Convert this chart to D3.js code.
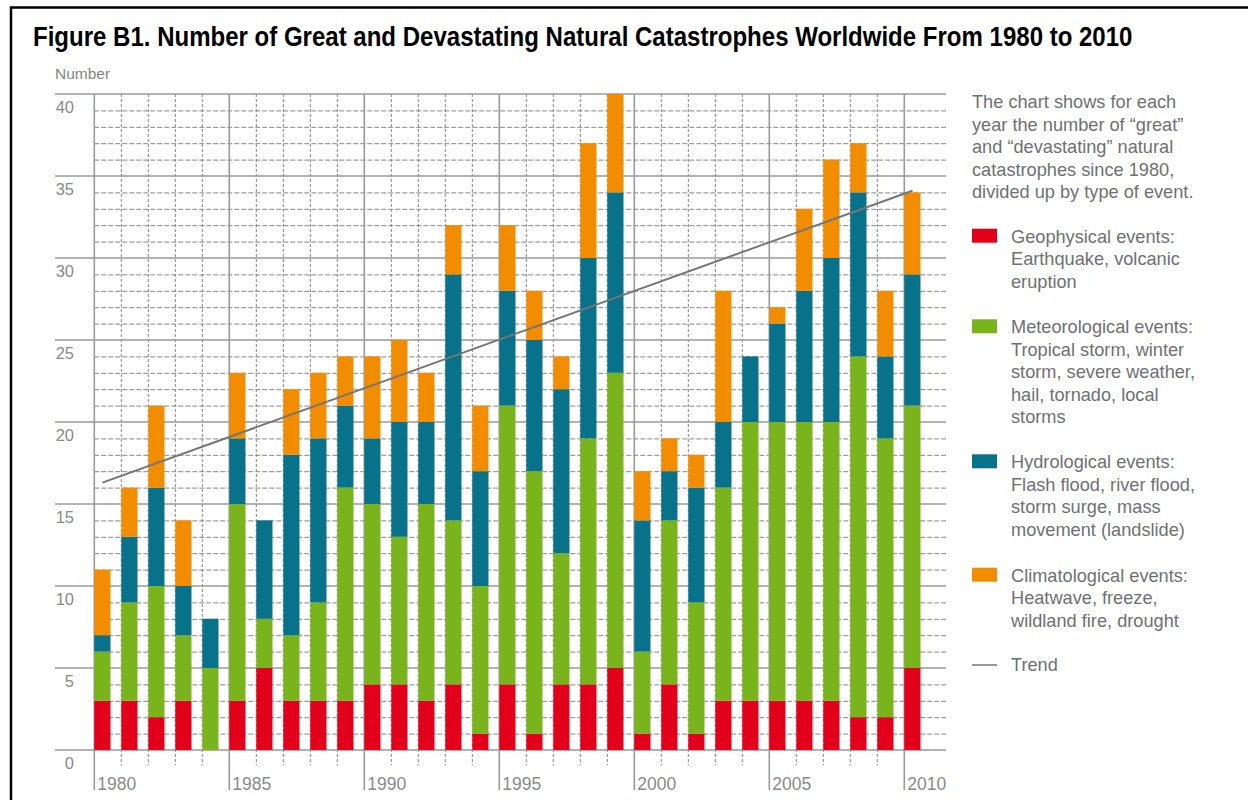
<!DOCTYPE html>
<html><head><meta charset="utf-8">
<script src="https://cdn.jsdelivr.net/npm/d3@7"></script>
<style>
html,body{margin:0;padding:0;background:#fff;}
svg{display:block;}
</style></head>
<body>
<svg id="chart" width="1248" height="800"></svg>
<script>
// ---- data ----
const years = d3.range(1980, 2011);
const geophysical    = [3,3,2,3,0,3,5,3,3,3, 4,4,3,4,1,4,1,4,4,5, 1,4,1,3,3,3,3,3,2,2,5];
const meteorological = [3,6,8,4,5,12,3,4,6,13, 11,9,12,10,9,17,16,8,15,18, 5,10,8,13,17,17,17,17,22,17,16];
const hydrological   = [1,4,6,3,3,4,6,11,10,5, 4,7,5,15,7,7,8,10,11,11, 8,3,7,4,4,6,8,10,10,5,8];
const climatological = [4,3,5,4,0,4,0,4,4,3, 5,5,3,3,4,4,3,2,7,6, 3,2,2,8,0,1,5,6,3,4,5];
const trendYears = [1980, 2010];
const trendValues = [16.3, 34.1];
const yTicks = [0,5,10,15,20,25,30,35,40];
const xLabelYears = [1980,1985,1990,1995,2000,2005,2010];
const seriesKeys = ["geo","met","hyd","clim"];
const seriesColors = ["#e2001a","#7ab41d","#08728a","#f28c00"];
const titleText = "Figure B1. Number of Great and Devastating Natural Catastrophes Worldwide From 1980 to 2010";
const introLines = ["The chart shows for each","year the number of \u201cgreat\u201d","and \u201cdevastating\u201d natural","catastrophes since 1980,","divided up by type of event."];
const legendItems = [
  {key:"geo", lines:["Geophysical events:","Earthquake, volcanic","eruption"]},
  {key:"met", lines:["Meteorological events:","Tropical storm, winter","storm, severe weather,","hail, tornado, local","storms"]},
  {key:"hyd", lines:["Hydrological events:","Flash flood, river flood,","storm surge, mass","movement (landslide)"]},
  {key:"clim", lines:["Climatological events:","Heatwave, freeze,","wildland fire, drought"]}
];

// ---- layout ----
const svg = d3.select("#chart");
const fontBody = "'Liberation Sans', Arial, Helvetica, sans-serif";
const gridLeft = 55, gridRight = 946;
const x = d3.scaleLinear().domain([1980, 2010]).range([94.3, 904.3]);
const step = x(1981) - x(1980);
const barW = step * 0.6;
const y = d3.scaleLinear().domain([0, 40]).range([750, 94]);

// frame
svg.append("path").attr("d", "M11,812 L11,7.5 L1260,7.5")
  .attr("fill","none").attr("stroke","#000").attr("stroke-width",2.5);

// title (condensed by horizontal scaling to the reference width)
const titleG = svg.append("g");
const title = titleG.append("text").attr("x",0).attr("y",0)
  .attr("font-family","'Liberation Sans Narrow','Arial Narrow'," + fontBody)
  .attr("font-weight","bold").attr("font-size",27).attr("fill","#000")
  .text(titleText);
const tw = title.node().getComputedTextLength();
titleG.attr("transform", `translate(33,46) scale(${1100/tw},1)`);

// "Number"
svg.append("text").attr("x",55).attr("y",79).attr("font-family",fontBody)
  .attr("font-size",15.5).attr("fill","#858585").text("Number");

// minor horizontal dashed grid
const g = svg.append("g");
const minor = d3.range(1, 40).filter(v => v % 5 !== 0);
g.selectAll(".hminor").data(minor).enter().append("line")
  .attr("x1", x(1980)).attr("x2", gridRight)
  .attr("y1", d => y(d)+0.5).attr("y2", d => y(d)+0.5)
  .attr("stroke","#858585").attr("stroke-width",1).attr("stroke-dasharray","5,2");

// vertical dashed lines (non-5 years)
const vMinor = years.filter(yr => yr % 5 !== 0);
g.selectAll(".vminor").data(vMinor).enter().append("line")
  .attr("x1", d => x(d)).attr("x2", d => x(d))
  .attr("y1", y(40)).attr("y2", y(0)+15)
  .attr("stroke","#858585").attr("stroke-width",1).attr("stroke-dasharray","3,2");

// major horizontal solid grid
g.selectAll(".hmajor").data(yTicks).enter().append("line")
  .attr("x1", gridLeft).attr("x2", gridRight)
  .attr("y1", d => y(d)).attr("y2", d => y(d))
  .attr("stroke","#9a9a9a").attr("stroke-width",1.6);

// vertical solid lines (5-year)
g.selectAll(".vmajor").data(xLabelYears).enter().append("line")
  .attr("x1", d => x(d)).attr("x2", d => x(d))
  .attr("y1", y(40)).attr("y2", 790)
  .attr("stroke","#9a9a9a").attr("stroke-width",1.6);

// y tick labels
svg.selectAll(".ylab").data(yTicks).enter().append("text")
  .attr("x",74).attr("y", d => y(d)+18.5).attr("text-anchor","end")
  .attr("font-family",fontBody).attr("font-size",16.5).attr("fill","#8a8a8a")
  .text(d => d);

// x labels
svg.selectAll(".xlab").data(xLabelYears).enter().append("text")
  .attr("x", d => x(d)+3).attr("y",790)
  .attr("font-family",fontBody).attr("font-size",17.5).attr("fill","#8a8a8a")
  .text(d => d);

// stacked bars
const rows = years.map((yr,i) => ({year:yr, geo:geophysical[i], met:meteorological[i], hyd:hydrological[i], clim:climatological[i]}));
const stack = d3.stack().keys(seriesKeys)(rows);
const color = d3.scaleOrdinal().domain(seriesKeys).range(seriesColors);
svg.append("g").selectAll("g").data(stack).enter().append("g")
  .attr("fill", d => color(d.key))
  .selectAll("rect").data(d => d.filter(s => s[1] > s[0])).enter().append("rect")
  .attr("x", d => x(d.data.year))
  .attr("width", barW)
  .attr("y", d => y(d[1]))
  .attr("height", d => y(d[0]) - y(d[1]));

// trend line
const trendData = trendYears.map((yr,i) => [yr, trendValues[i]]);
svg.append("path").datum(trendData)
  .attr("d", d3.line().x(d => x(d[0]) + barW/2).y(d => y(d[1])))
  .attr("fill","none").attr("stroke","#757575").attr("stroke-width",2);

// legend / description
const legendColor = "#6f7073";
const lfs = 18.2;
const lh = 22.4;
svg.append("text").attr("font-family",fontBody).attr("font-size",lfs).attr("fill",legendColor)
  .selectAll("tspan").data(introLines).enter().append("tspan")
  .attr("x",972).attr("y",(d,i) => 108.3 + i*lh).text(d => d);

const legendTops = [242.7, 333.3, 468.3, 581.7];
legendItems.forEach((item, k) => {
  const base = legendTops[k];
  svg.append("rect").attr("x",972).attr("y",base-14).attr("width",25).attr("height",14)
    .attr("fill", color(item.key));
  svg.append("text").attr("font-family",fontBody).attr("font-size",lfs).attr("fill",legendColor)
    .selectAll("tspan").data(item.lines).enter().append("tspan")
    .attr("x",1011).attr("y",(d,i) => base + i*lh).text(d => d);
});
svg.append("line").attr("x1",972).attr("x2",997).attr("y1",665).attr("y2",665)
  .attr("stroke","#757575").attr("stroke-width",1.5);
svg.append("text").attr("x",1011).attr("y",670.7).attr("font-family",fontBody)
  .attr("font-size",lfs).attr("fill",legendColor).text("Trend");
</script>
</body></html>
